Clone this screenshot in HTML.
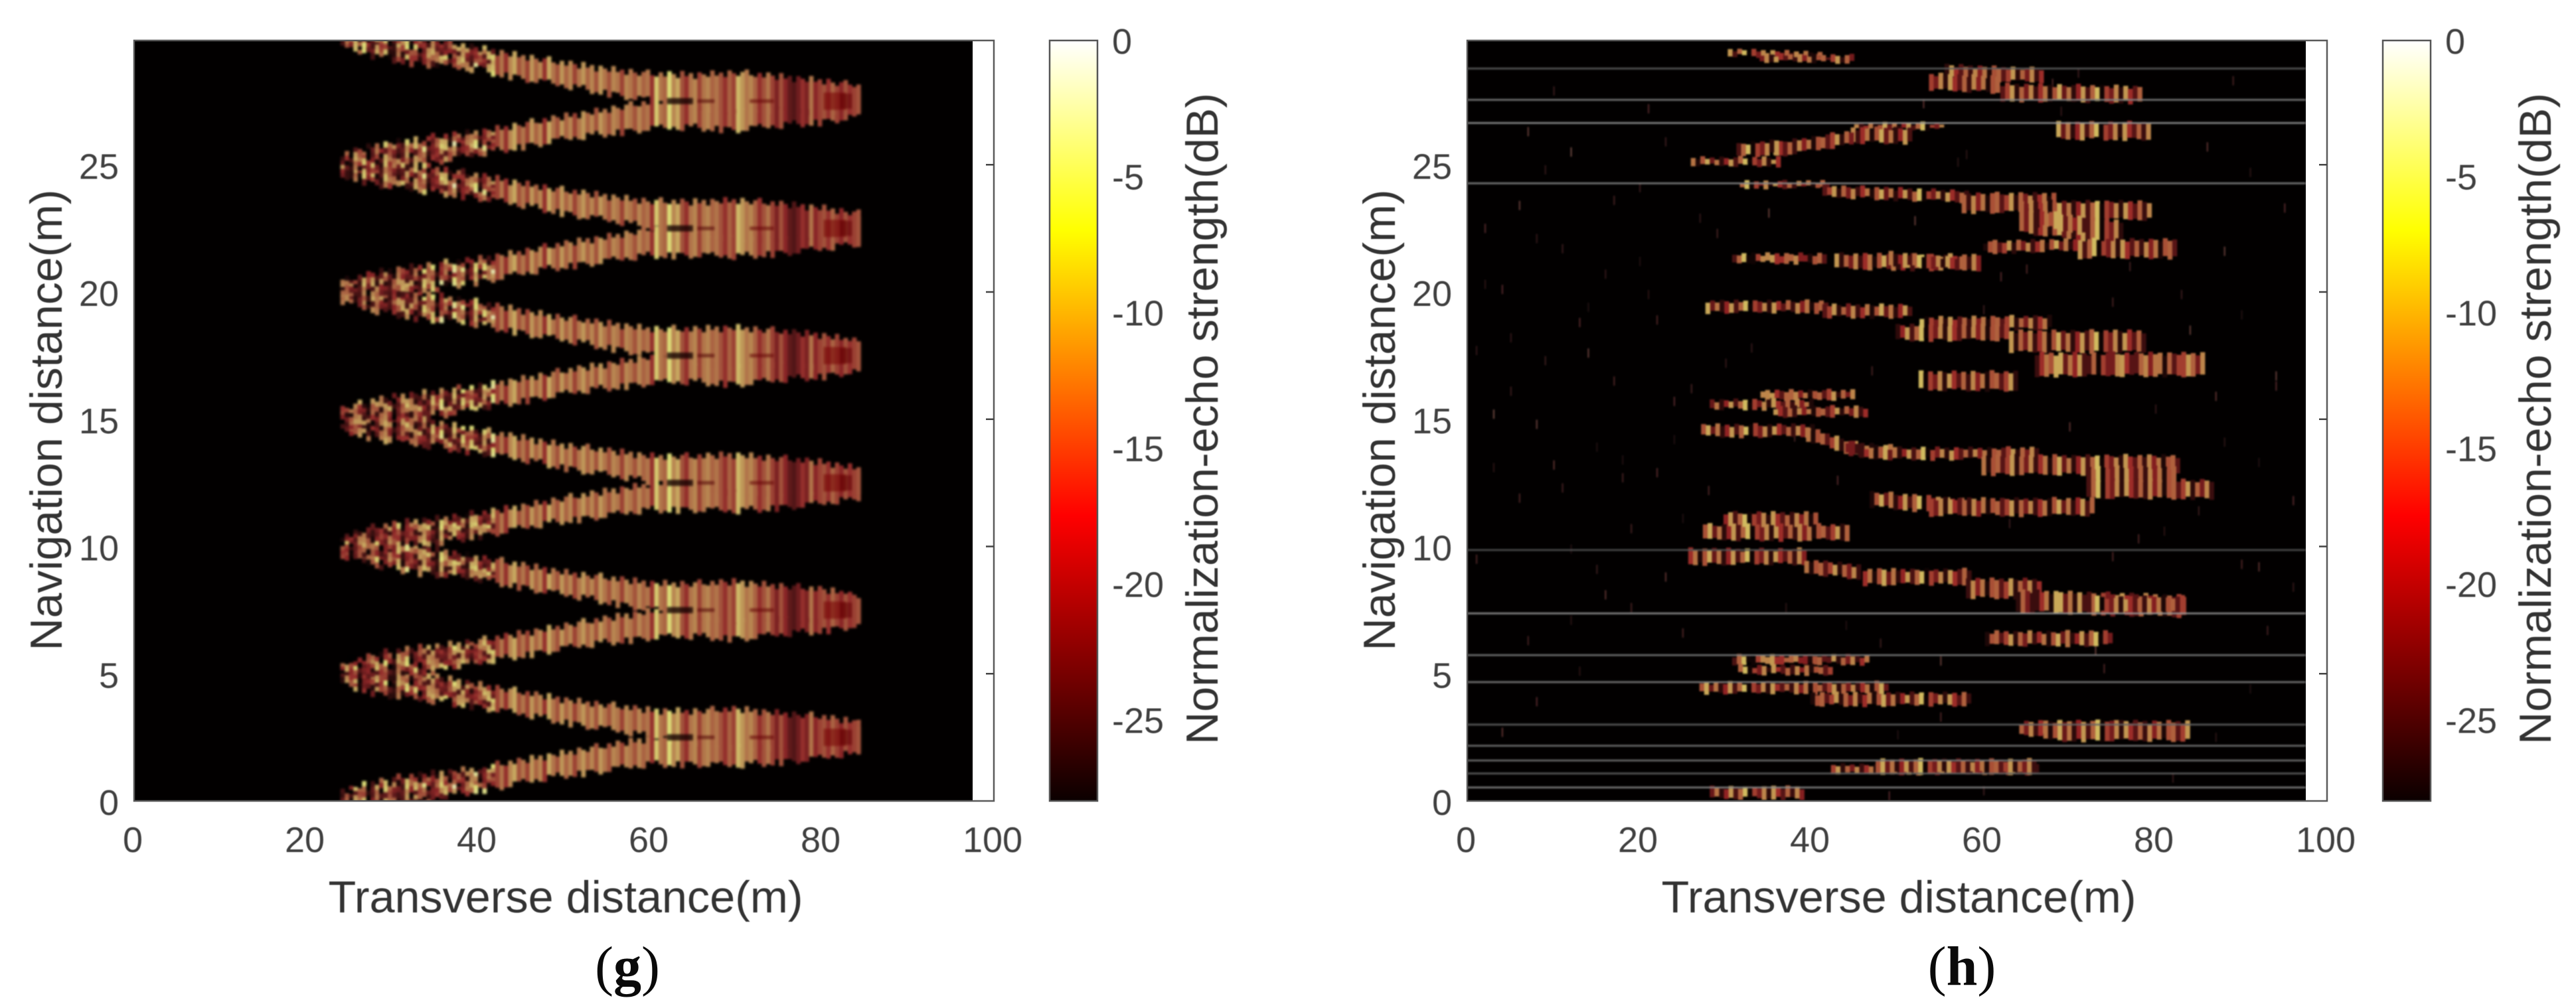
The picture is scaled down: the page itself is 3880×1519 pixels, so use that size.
<!DOCTYPE html>
<html lang="en">
<head>
<meta charset="utf-8">
<title>Normalized echo strength maps</title>
<style>
html,body{margin:0;padding:0;background:#fff;width:3880px;height:1519px;overflow:hidden}
svg{display:block}
text{font-family:"Liberation Sans",Arial,sans-serif;fill:#404040;filter:blur(0.6px)}
.tick{font-size:54px}
.title{font-size:68px;fill:#333}
.cap{font-family:"Liberation Serif",serif;font-size:84px;fill:#0a0a0a;filter:none}
.heat-g{filter:blur(1.9px)}
.heat-h{filter:blur(1.3px)}
</style>
</head>
<body>
<svg id="figure" xmlns="http://www.w3.org/2000/svg" width="3880" height="1519" viewBox="0 0 3880 1519">
  <defs>
    <linearGradient id="hotGradient" x1="0" y1="1" x2="0" y2="0">
      <stop offset="0" stop-color="#0b0000"/>
      <stop offset="0.375" stop-color="#ff0000"/>
      <stop offset="0.75" stop-color="#ffff00"/>
      <stop offset="1" stop-color="#ffffff"/>
    </linearGradient>
    <clipPath id="plotClip"><rect x="202" y="61" width="1263" height="1146"/></clipPath>
  </defs>

  <g id="panelG">
    <rect x="202" y="61" width="1295" height="1146" fill="#fff"/>
    <rect x="202" y="61" width="1263" height="1146" fill="#020000"/>
    <g clip-path="url(#plotClip)"><g id="cellsG" class="heat-g"></g></g>
    <rect x="202" y="61" width="1295" height="1146" fill="none" stroke="#5a5a5a" stroke-width="2.5"/>
    <g id="ticksG"></g>
    <rect x="1581" y="61" width="72" height="1146" fill="url(#hotGradient)" stroke="#555" stroke-width="2.5"/>
    <text class="title" x="852" y="1375" text-anchor="middle" textLength="715" lengthAdjust="spacingAndGlyphs">Transverse distance(m)</text>
    <text class="title" transform="translate(93 633) rotate(-90)" text-anchor="middle" textLength="695" lengthAdjust="spacingAndGlyphs">Navigation distance(m)</text>
    <text class="title" transform="translate(1834 631) rotate(-90)" text-anchor="middle" textLength="982" lengthAdjust="spacingAndGlyphs">Normalization-echo strength(dB)</text>
    <text class="cap" x="945" y="1484" text-anchor="middle">(<tspan font-weight="bold">g</tspan>)</text>
  </g>

  <g id="panelH" transform="translate(2008 0)">
    <rect x="202" y="61" width="1295" height="1146" fill="#fff"/>
    <rect x="202" y="61" width="1263" height="1146" fill="#020000"/>
    <g clip-path="url(#plotClip)"><g id="cellsH" class="heat-h"></g></g>
    <rect x="202" y="61" width="1295" height="1146" fill="none" stroke="#5a5a5a" stroke-width="2.5"/>
    <g id="ticksH"></g>
    <rect x="1581" y="61" width="72" height="1146" fill="url(#hotGradient)" stroke="#555" stroke-width="2.5"/>
    <text class="title" x="852" y="1375" text-anchor="middle" textLength="715" lengthAdjust="spacingAndGlyphs">Transverse distance(m)</text>
    <text class="title" transform="translate(93 633) rotate(-90)" text-anchor="middle" textLength="695" lengthAdjust="spacingAndGlyphs">Navigation distance(m)</text>
    <text class="title" transform="translate(1834 631) rotate(-90)" text-anchor="middle" textLength="982" lengthAdjust="spacingAndGlyphs">Normalization-echo strength(dB)</text>
    <text class="cap" x="947" y="1484" text-anchor="middle">(<tspan font-weight="bold">h</tspan>)</text>
  </g>
</svg>

<script>
// ---- axis tick labels ----
var xTicks = [0, 20, 40, 60, 80, 100];
var yTicks = [0, 5, 10, 15, 20, 25];
var colorTicks = [0, -5, -10, -15, -20, -25];

// ---- panel (g): zig-zag ridge, in metres ----
var apexNavigation = [0, 5, 10, 15, 20, 25, 30];
var ridgeTransverse = [24, 28, 32, 36, 40, 45, 50, 55, 60, 65, 70, 75, 80, 84.5];
var ridgeOffset = [0.02, 0.25, 0.45, 0.65, 0.85, 1.15, 1.45, 1.7, 1.95, 2.1, 2.15, 2.2, 2.3, 2.5];
var ridgeHalfWidth = [0.36, 0.5, 0.52, 0.47, 0.43, 0.42, 0.43, 0.46, 0.5, 0.62, 0.75, 0.65, 0.6, 0.55];

// per-column strength (dB) for the vertical stripes, left to right from 24 m
var stripeDb = [-18,-16,-19,-15,-17,-14,-20,-16,-15,-18,-14,-17,-19,-15,-16,-13,-18,-15,-17,-13,
  -16,-14,-19,-12,-15,-17,-11,-16,-13,-18,-14,-12,-17,-13,-15,-11,-16,-13,-17,-12,
  -10,-15,-13,-16,-11,-14,-12,-17,-10,-13,-15,-11,-14,-12,-16,-13,-11,-14,-12,-15,
  -11,-13,-15,-12,-13,-16,-12,-13,-15,-12,-14,-13,-17,-8,-13,-14,-7,-12,-10,-15,
  -17,-13,-12,-16,-13,-12,-14,-13,-15,-17,-14,-16,-9,-11,-13,-12,-14,-17,-15,-13,
  -16,-19,-15,-18,-21,-22,-20,-17,-19,-13,-18,-16,-15,-17,-14,-16,-18,-15,-17,-16,-15];

// small strength changes used for cells in the speckled fork (dB)
var speckleDb = [-5,4,-8,1,5,-6,0,-10,2,6,-3,-9,3,-1,-7,7,-4,1,-11,4,0,-7,2,-5,5,-2];

// rough edge of the band, in metres
var edgeJitter = [0.09,-0.07,0.14,0.03,-0.12,0.16,-0.04,0.08,-0.15,0.1,0.01,-0.09,0.15,-0.06,0.05,-0.13,0.12,0,-0.1,0.07,0.18,-0.03,-0.08];

// dark blobs around each right-hand crest: transverse, half width (m), half height (m), dB
var crestSpotX = [63.5, 66.5, 73, 81.5, 82.8];
var crestSpotHalfX = [1.5, 1.0, 1.4, 1.3, 0.7];
var crestSpotHalfY = [0.12, 0.07, 0.07, 0.34, 0.3];
var crestSpotDb = [-27, -24, -23, -22, -23];
var crestSpotOpacity = [0.8, 0.6, 0.6, 0.6, 0.6];
var crestNavigation = [2.5, 7.5, 12.5, 17.5, 22.5, 27.5];

// ---- panel (h): echo patches: x start, x end, nav at start, nav at end, height ----
var patchXStart = [30.3,34,55.5,53.7,62,68.5,45,44.6,35.6,31.3,26,31.7,41.3,57.5,64.2,64.2,66,71,60,42.7,49,30.8,27.7,41.3,52.6,49.8,63,66,52.5,34.1,28.2,35.6,27.2,39.4,44,45.6,59.8,72,72,46.8,53.7,29.8,27.4,25.7,39.2,46,58,63.8,73,60.2,30.8,31.5,27,39.9,64.2,67,42.3,47.5,28.2];
var patchXEnd = [41.5,44.9,66.8,62,78.3,79.3,55.5,52,45,36.5,36.5,42.3,58.5,68.5,79.5,76.2,72,82.4,71,59.5,58,41.8,41.8,52,68,63,78.9,85.6,64.2,45.3,40.4,46.6,40.4,46,50.4,66.6,82.7,82.7,86.8,58.5,72.7,40.8,44.2,39.2,46,58.5,67,83.4,83.4,75.2,46.7,42.3,49,58.7,78,84.3,66.3,66.3,39.1];
var patchNavStart = [29.4,29.2,28.65,28.25,27.85,26.33,26.5,26.15,25.6,25.55,25.12,24.22,23.95,23.5,23.2,22.8,22.9,21.7,21.75,21.2,21.3,21.32,19.42,19.25,18.75,18.4,18.05,17.15,16.5,15.95,15.58,15.3,14.55,14.4,13.9,13.65,13.2,12.75,12.25,11.85,11.55,11,10.55,9.6,9.2,8.8,8.35,7.85,7.7,6.38,5.55,5.15,4.45,4,2.85,2.75,1.25,1.35,0.32];
var patchNavEnd = [29.3,29.15,28.5,28.15,27.75,26.33,26.5,26.15,26.05,25.7,25.12,24.22,23.75,23.5,23.2,22.3,22.6,21.7,21.85,21.15,21.1,21.32,19.42,19.25,18.8,18.4,18.05,17.15,16.5,15.95,15.58,15.3,14.55,13.75,13.7,13.65,13.2,12.75,12.25,11.55,11.55,11,10.55,9.6,9,8.8,8.35,7.65,7.7,6.38,5.55,5.15,4.45,4,2.85,2.75,1.25,1.35,0.32];
var patchHeight = [0.2,0.24,0.5,0.6,0.6,0.62,0.22,0.55,0.5,0.5,0.28,0.2,0.4,0.7,0.68,0.9,0.6,0.68,0.4,0.55,0.45,0.32,0.4,0.45,0.45,0.55,0.8,0.85,0.68,0.32,0.32,0.34,0.42,0.5,0.4,0.4,0.7,0.7,0.68,0.55,0.62,0.62,0.56,0.55,0.5,0.55,0.7,0.8,0.6,0.5,0.3,0.3,0.38,0.45,0.5,0.72,0.32,0.5,0.42];

// per-column strength (dB) inside the patches
var stripeDbH = [-14,-22,-16,-11,-25,-14,-20,-12,-24,-17,-13,-26,-15,-10,-21,-13,-25,-18,-11,-23,-14,-9,-27,-16,-20,-12,-25,-11,-17,-22,-14,-24,-12,-19,-13,-26,-15];

// horizontal bright scan lines (navigation distance, m)
var scanLines = [28.78, 27.55, 26.64, 24.27, 9.86, 7.37, 5.73, 4.67, 3.0, 2.17, 1.59, 1.08, 0.53];
var scanLineGray = [95, 130, 150, 135, 85, 150, 125, 130, 100, 120, 120, 100, 135];

// sparse background returns: transverse, navigation, dB
var noiseX = [2,5,8,11,14,17,20,23,3,7,12,16,21,25,9,1,6,13,19,24,27,4,10,15,22,47,52,57,62,71,75,80,86,90,93,96,88,84,48,55,69,77,91,95,92,87,83,78,35,30,18,12,8,5,2,70,74,82,89,94,60,50,43,37,
  4,9,14,19,24,6,11,16,21,26,3,8,13,18,23,28,7,12,17,22,1,10,15,20,25,29,88,91,94,85,90,96,87,92,75,78,81,55,60,65,33,38,44,49,53,58,63,68,73];
var noiseY = [22.5,18.2,14.8,12.3,19.4,16.5,24.1,8.8,13.1,6.3,25.5,20.7,27.2,11.1,17.3,9.5,23.4,5.1,7.6,15.7,22.9,2.7,27.9,13.9,18.9,16.9,22.8,25.1,20.6,28.6,9.6,15.4,25.7,19.1,6.7,11.8,14.1,18.5,6.2,3.3,27.1,21,4.4,23.3,9.2,2.5,19.9,10.3,23.1,17.2,12.7,9.9,3.9,16.1,20.3,14.7,5.2,0.9,28.3,16.7,0.4,2.6,12.6,7.6,
  20.1,24.8,17.6,10.7,14.2,11.9,21.7,8.1,19.9,16.2,15.2,22.1,18.8,13.4,25.9,12.2,26.3,7.1,23.6,12.9,17.7,13.2,9.1,21.2,6.6,22.3,21.6,24.7,16.3,11.4,9.3,8.4,15.9,13.3,19.6,17.1,10.6,5.5,19.3,20.9,17.8,14.3,6.9,0.2,27.4,25.4,10.9,28.2,5.9];
var noiseDb = [-18,-22,-16,-20,-24,-19,-21,-17,-23,-20,-15,-22,-18,-24,-21,-19,-16,-23,-20,-18,-22,-17,-21,-24,-19,-20,-16,-23,-18,-21,-19,-22,-17,-24,-20,-18,-23,-16,-21,-19,-22,-20,-24,-18,-17,-23,-21,-19,-16,-22,-20,-24,-18,-21,-23,-17,-19,-22,-20,-16,-21,-24,-18,-23];

// ---- axis functions ----
var SVGNS = 'http://www.w3.org/2000/svg';
function xScale(v) { return 202 + v * 12.95; }
function yScale(v) { return 1207 - v * 38.35; }
function colorScale(db) { return 61 - db * 40.93; }
function clamp01(v) { return Math.max(0, Math.min(1, v)); }

function hotRgb(db) {
  var t = clamp01((db + 28) / 28);
  return [clamp01(t / 0.375), clamp01((t - 0.375) / 0.375), clamp01((t - 0.75) / 0.25)];
}
// the source picture is chroma-smeared, so cell colours lean towards tan
function cellColor(db, mixAmount) {
  var c = hotRgb(db);
  var l = 0.3 * c[0] + 0.59 * c[1] + 0.11 * c[2];
  var m = mixAmount;
  var r = c[0] * (1 - m) + l * m;
  var g = c[1] * (1 - m) + l * m;
  var b = c[2] * (1 - m) + l * m + 0.02 * l;
  return 'rgb(' + Math.round(255 * clamp01(r * 0.92)) + ',' +
    Math.round(255 * clamp01(g * 0.92)) + ',' +
    Math.round(255 * clamp01(b * 0.92)) + ')';
}
function ridgeLookup(values, x) {
  for (var i = 0; i < ridgeTransverse.length - 1; i++) {
    if (x <= ridgeTransverse[i + 1]) {
      var f = (x - ridgeTransverse[i]) / (ridgeTransverse[i + 1] - ridgeTransverse[i]);
      return values[i] + (values[i + 1] - values[i]) * f;
    }
  }
  return values[values.length - 1];
}
function makeRect(x, y, w, h, fill) {
  var r = document.createElementNS(SVGNS, 'rect');
  r.setAttribute('x', x.toFixed(2));
  r.setAttribute('y', y.toFixed(2));
  r.setAttribute('width', w.toFixed(2));
  r.setAttribute('height', Math.max(h, 0).toFixed(2));
  r.setAttribute('fill', fill);
  return r;
}
function makeText(x, y, anchor, label) {
  var t = document.createElementNS(SVGNS, 'text');
  t.setAttribute('x', x);
  t.setAttribute('y', y);
  t.setAttribute('text-anchor', anchor);
  t.setAttribute('class', 'tick');
  t.textContent = label;
  return t;
}

// ---- ticks and colorbar labels for a panel ----
function drawAxes(group) {
  xTicks.forEach(function (v) {
    var t = makeText(xScale(v) - 2, 1284, 'middle', String(v));
    
    
    group.appendChild(t);
  });
  yTicks.forEach(function (v) {
    var t = makeText(179, yScale(v) + 21, 'end', String(v));
    
    
    group.appendChild(t);
    if (v > 0) {
      var m = makeRect(1485, yScale(v) - 1.25, 12, 2.5, '#444');
      
      
      group.appendChild(m);
    }
  });
  colorTicks.forEach(function (v) {
    var t = makeText(1675, colorScale(v) + 20, 'start', String(v));
    
    
    group.appendChild(t);
    if (v < 0) {
      var m = makeRect(1641, colorScale(v) - 1.25, 12, 2.5, '#444');
      
      
      group.appendChild(m);
    }
  });
}
drawAxes(document.getElementById('ticksG'));
drawAxes(document.getElementById('ticksH'));

// ---- panel (g) cells ----
(function () {
  var g = document.getElementById('cellsG');
  var colW = 0.5;
  var first = ridgeTransverse[0];
  var last = ridgeTransverse[ridgeTransverse.length - 1];
  var count = Math.round((last - first) / colW);
  for (var a = 0; a < apexNavigation.length; a++) {
    [-1, 1].forEach(function (dir) {
      for (var c = 0; c < count; c++) {
        var x = first + c * colW;
        var mid = x + colW / 2;
        var off = ridgeLookup(ridgeOffset, mid);
        var half = ridgeLookup(ridgeHalfWidth, mid);
        var j1 = edgeJitter[(c + a * 3 + (dir > 0 ? 7 : 0)) % edgeJitter.length];
        var j2 = edgeJitter[(c * 2 + a + (dir > 0 ? 0 : 5)) % edgeJitter.length];
        var navCentre = apexNavigation[a] + dir * off;
        var top = navCentre + half + j1;
        var bottom = navCentre - half - j2;
        var db = stripeDb[c % stripeDb.length];
        var parts = mid < 42 ? 5 : 1;
        var step = (top - bottom) / parts;
        for (var p = 0; p < parts; p++) {
          var cellDb = parts > 1 ? db + speckleDb[(c * 3 + p * 5 + a) % speckleDb.length] : db;
          var navTop = top - p * step;
          var r = makeRect(xScale(x), yScale(navTop), colW * 12.95 + 0.4, step * 38.35 + 0.4, cellColor(cellDb, 0.55));
          
          
          g.appendChild(r);
        }
      }
    });
  }
  crestNavigation.forEach(function (nav) {
    crestSpotX.forEach(function (sx, i) {
      var s = makeRect(xScale(sx - crestSpotHalfX[i]), yScale(nav + crestSpotHalfY[i]),
        crestSpotHalfX[i] * 2 * 12.95, crestSpotHalfY[i] * 2 * 38.35, cellColor(crestSpotDb[i], 0.15));
      s.setAttribute('opacity', crestSpotOpacity[i]);
      
      
      g.appendChild(s);
    });
  });
})();

// ---- panel (h) cells ----
(function () {
  var g = document.getElementById('cellsH');
  noiseX.forEach(function (nx, i) {
    var n = makeRect(xScale(nx), yScale(noiseY[i]) - 7, 2.2, 14, cellColor(noiseDb[i % noiseDb.length], 0.75));
    n.setAttribute('opacity', 0.75);
    
    
    g.appendChild(n);
  });
  var colW = 0.55;
  patchXStart.forEach(function (start, i) {
    var end = patchXEnd[i];
    var count = Math.max(1, Math.round((end - start) / colW));
    for (var c = 0; c < count; c++) {
      var x = start + c * colW;
      var f = count > 1 ? c / (count - 1) : 0;
      var nav = patchNavStart[i] + (patchNavEnd[i] - patchNavStart[i]) * f;
      var h = patchHeight[i];
      var j1 = edgeJitter[(c + i) % edgeJitter.length] * 0.5;
      var j2 = edgeJitter[(c * 2 + i * 3) % edgeJitter.length] * 0.5;
      var top = nav + h / 2 + j1;
      var bottom = nav - h / 2 - j2;
      var db = stripeDbH[Math.floor(x / colW) % stripeDbH.length];
      var r = makeRect(xScale(x), yScale(top), colW * 12.95 + 0.3, (top - bottom) * 38.35, cellColor(db, 0.5));
      
      
      g.appendChild(r);
    }
  });
  scanLines.forEach(function (nav, i) {
    var gray = scanLineGray[i];
    var l = makeRect(xScale(0), yScale(nav) - 1.2, 1263, 2.4, 'rgb(' + gray + ',' + gray + ',' + gray + ')');
    
    
    g.appendChild(l);
  });
})();
</script>
</body>
</html>
